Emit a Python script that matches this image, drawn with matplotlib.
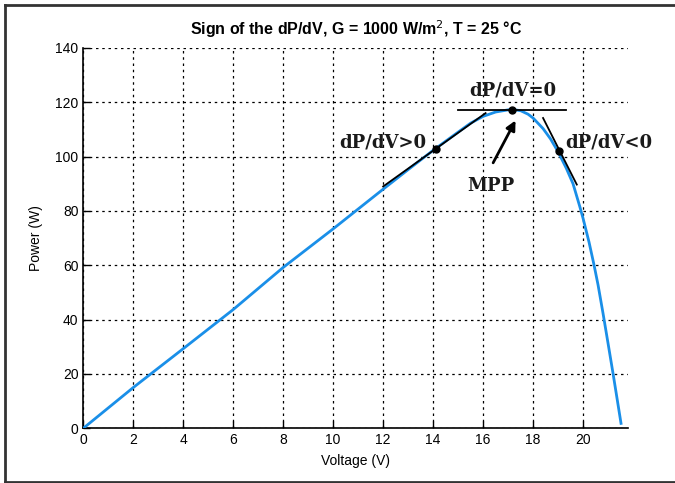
import matplotlib
matplotlib.use("Agg")
import matplotlib.pyplot as plt
from matplotlib.lines import Line2D

# P-V curve
voltage = [0, 2, 4, 6, 8, 10, 12, 13, 14, 15, 15.5, 16, 16.5, 17, 17.2, 17.5,
           17.8, 18.0, 18.4, 18.7, 19.0, 19.33, 19.6, 19.87, 20.0, 20.24, 20.44,
           20.6, 20.8, 21.0, 21.2, 21.35, 21.52]
power = [0, 15.0, 29.3, 43.7, 59.2, 73.4, 88.0, 95.2, 102.3, 109.0, 112.3, 114.8,
         116.4, 117.2, 117.3, 116.9, 115.6, 114.2, 110.3, 106.5, 101.8, 95.7, 90.0,
         81.6, 77.3, 68.5, 60.1, 52.8, 42.3, 31.3, 20.2, 11.6, 1.8]

# tangent segments and points
tan_pos_v = [12.0, 16.1]
tan_pos_p = [89.0, 116.0]
tan_zero_v = [15.0, 19.3]
tan_zero_p = [117.3, 117.3]
tan_neg_v = [18.4, 19.75]
tan_neg_p = [114.2, 89.7]
dots_v = [14.12, 17.17, 19.03]
dots_p = [102.8, 117.3, 101.9]

xticks = list(range(0, 21, 2))
yticks = list(range(0, 141, 20))

fig = plt.figure(figsize=(6.75, 4.83), dpi=100)
ax = fig.add_axes([0.1234, 0.1133, 0.807, 0.7875])

ax.plot(voltage, power, color='#1a8fe8', lw=2, zorder=3)
ax.plot(tan_pos_v, tan_pos_p, color='black', lw=1.3, zorder=4)
ax.plot(tan_zero_v, tan_zero_p, color='black', lw=1.3, zorder=4)
ax.plot(tan_neg_v, tan_neg_p, color='black', lw=1.3, zorder=4)
ax.plot(dots_v, dots_p, 'o', color='black', ms=5, zorder=5)

ax.annotate('', xy=(17.35, 114.2), xytext=(16.35, 96.8),
            arrowprops=dict(arrowstyle='-|>', color='black', lw=2, mutation_scale=14))

lab = dict(family='DejaVu Serif', fontweight='bold', fontsize=13, color='#1a1a1a')
ax.text(17.2, 124.5, 'dP/dV=0', ha='center', va='center', **lab)
ax.text(12.0, 105.2, 'dP/dV>0', ha='center', va='center', **lab)
ax.text(19.3, 105.2, 'dP/dV<0', ha='left', va='center', **lab)
ax.text(16.3, 89, 'MPP', ha='center', va='center', **lab)

ax.set_xlim(0, 21.8)
ax.set_ylim(0, 140)
ax.set_xticks(xticks)
ax.set_yticks(yticks)
ax.grid(True, color='black', linestyle=(0, (2, 3)), lw=0.9)
ax.tick_params(direction='in', length=5, width=1, labelsize=10)
for t in ax.get_xticklabels() + ax.get_yticklabels():
    t.set_family('Liberation Sans')
ax.spines['top'].set_visible(False)
ax.spines['right'].set_visible(False)
ax.spines['left'].set_linewidth(1.2)
ax.spines['bottom'].set_linewidth(1.2)

ax.set_xlabel('Voltage (V)', family='Liberation Sans', fontsize=10, labelpad=5)
ax.set_ylabel('Power (W)', family='Liberation Sans', fontsize=10, labelpad=9)
ax.set_title('Sign of the dP/dV, G = 1000 W/m$^2$, T = 25 °C', family='Liberation Sans',
             fontweight='bold', fontsize=11.5, pad=9)

# outer frame
for xs, ys in [([5/675, 5/675], [0, 478/483]), ([5/675, 1], [478/483, 478/483]),
               ([5/675, 1], [1/483, 1/483])]:
    fig.add_artist(Line2D(xs, ys, transform=fig.transFigure, color='#333333', lw=2))

fig.savefig('out.png', dpi=100)
